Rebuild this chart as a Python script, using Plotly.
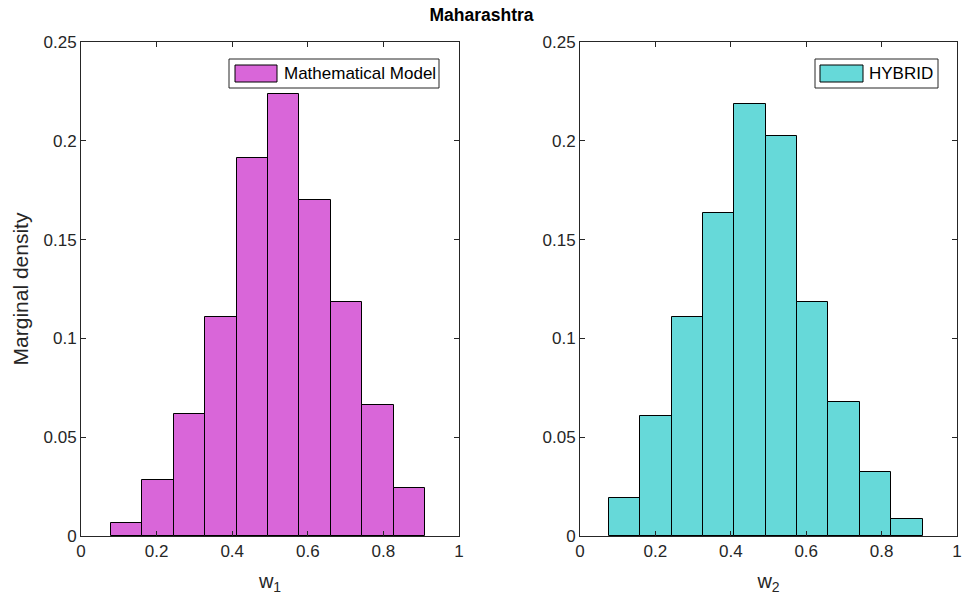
import plotly.graph_objects as go

# ---- data ----
edges_w1 = [0.079, 0.162, 0.245, 0.329, 0.412, 0.495, 0.578, 0.661, 0.744, 0.827, 0.910]
dens_w1 = [0.0066, 0.0284, 0.0619, 0.111, 0.1915, 0.2238, 0.170, 0.1183, 0.0661, 0.0243]

edges_w2 = [0.076, 0.159, 0.243, 0.326, 0.409, 0.493, 0.576, 0.659, 0.743, 0.826, 0.909]
dens_w2 = [0.0193, 0.0605, 0.111, 0.1635, 0.2186, 0.2023, 0.1183, 0.0676, 0.0325, 0.0086]

x_ticks = [0, 0.2, 0.4, 0.6, 0.8, 1]
y_ticks = [0, 0.05, 0.1, 0.15, 0.2, 0.25]

names = ["Mathematical Model", "HYBRID"]
colors = ["#D966D9", "#66D9D9"]

FONT = "Liberation Sans, Arial, sans-serif"
AX = "#262626"


def centers(e):
    return [(a + b) / 2 for a, b in zip(e[:-1], e[1:])]


def widths(e):
    return [b - a for a, b in zip(e[:-1], e[1:])]


fig = go.Figure()
fig.add_trace(go.Bar(
    x=centers(edges_w1), y=dens_w1, width=widths(edges_w1),
    marker=dict(color=colors[0], line=dict(color="black", width=1)),
    name=names[0], xaxis="x", yaxis="y", showlegend=False,
))
fig.add_trace(go.Bar(
    x=centers(edges_w2), y=dens_w2, width=widths(edges_w2),
    marker=dict(color=colors[1], line=dict(color="black", width=1)),
    name=names[1], xaxis="x2", yaxis="y2", showlegend=False,
))

W, H = 963, 608
L1, R1 = 81, 459
L2, R2 = 580, 957
TOP, BOT = 42, 536

axis_common = dict(
    showline=True, linecolor=AX, linewidth=1, mirror="ticks",
    ticks="inside", ticklen=5, tickcolor=AX, showgrid=False,
    zeroline=False, layer="above traces", automargin=False,
    tickfont=dict(family=FONT, size=17, color=AX),
)

xax = dict(axis_common, range=[0, 1], tickvals=x_ticks,
           ticktext=[f"{v:g}" for v in x_ticks])
yax = dict(axis_common, range=[0, 0.25], tickvals=y_ticks,
           ticktext=[f"{v:g}" for v in y_ticks])

fig.update_layout(
    width=W, height=H,
    margin=dict(l=0, r=0, t=0, b=0, autoexpand=False),
    paper_bgcolor="white", plot_bgcolor="white",
    bargap=0, barmode="overlay",
    font=dict(family=FONT, color=AX),
    xaxis=dict(xax, domain=[L1 / W, R1 / W], anchor="y",
               title=dict(text="w<sub>1</sub>", font=dict(size=20, family=FONT, color=AX), standoff=13)),
    yaxis=dict(yax, domain=[1 - BOT / H, 1 - TOP / H], anchor="x",
               title=dict(text="Marginal density", font=dict(size=21, family=FONT, color=AX), standoff=9)),
    xaxis2=dict(xax, domain=[L2 / W, R2 / W], anchor="y2",
                title=dict(text="w<sub>2</sub>", font=dict(size=20, family=FONT, color=AX), standoff=13)),
    yaxis2=dict(yax, domain=[1 - BOT / H, 1 - TOP / H], anchor="x2"),
    title=dict(text="<b>Maharashtra</b>", x=0.5, xanchor="center", y=1 - 15 / H, yanchor="middle",
               font=dict(family=FONT, size=17.5, color="black"), automargin=False),
    showlegend=False,
)

# legend boxes (drawn as shapes + text, matching the reference's legend look)
legends = [
    dict(box=(229, 59, 439, 88), sw=(235, 65, 277, 82), tx=282),
    dict(box=(815, 59, 938, 88), sw=(820, 65, 863, 82), tx=867),
]
for lg, nm, col in zip(legends, names, colors):
    x0, y0, x1, y1 = lg["box"]
    fig.add_shape(type="rect", xref="paper", yref="paper",
                  x0=x0 / W, x1=x1 / W, y0=1 - y1 / H, y1=1 - y0 / H,
                  line=dict(color="#262626", width=1), fillcolor="white", layer="above")
    sx0, sy0, sx1, sy1 = lg["sw"]
    fig.add_shape(type="rect", xref="paper", yref="paper",
                  x0=sx0 / W, x1=sx1 / W, y0=1 - sy1 / H, y1=1 - sy0 / H,
                  line=dict(color="black", width=1), fillcolor=col, layer="above")
    fig.add_annotation(xref="paper", yref="paper", x=lg["tx"] / W, y=1 - (y0 + y1) / 2 / H,
                       xanchor="left", yanchor="middle", showarrow=False, text=nm,
                       font=dict(family=FONT, size=17, color="black"))

fig.write_html("out.html")
